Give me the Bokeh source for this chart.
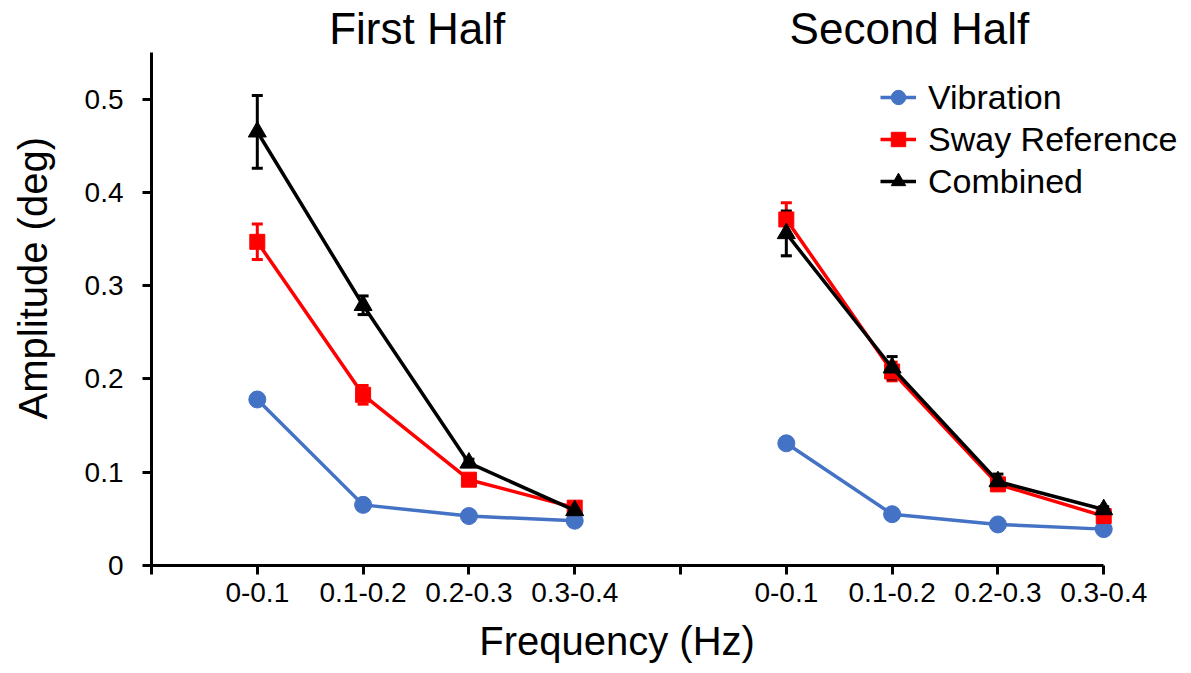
from bokeh.plotting import figure
from bokeh.models import (ColumnDataSource, Whisker, TeeHead, Legend, LegendItem,
                          FixedTicker, NumeralTickFormatter, Range1d, LinearAxis)
from bokeh.embed import file_html
from bokeh.resources import INLINE

# ---------------- data ----------------
categories = ["0-0.1", "0.1-0.2", "0.2-0.3", "0.3-0.4"]
halves = ["First Half", "Second Half"]
first_pos = [1, 2, 3, 4]
second_pos = [6, 7, 8, 9]

vib_first = [0.178, 0.065, 0.053, 0.048]
vib_first_err = [0.003, 0.003, 0.002, 0.002]
sway_first = [0.347, 0.183, 0.092, 0.062]
sway_first_err = [0.019, 0.010, 0.005, 0.003]
comb_first = [0.465, 0.279, 0.110, 0.059]
comb_first_err = [0.039, 0.010, 0.004, 0.003]

vib_second = [0.131, 0.055, 0.044, 0.039]
vib_second_err = [0.005, 0.003, 0.002, 0.002]
sway_second = [0.371, 0.208, 0.087, 0.053]
sway_second_err = [0.018, 0.010, 0.006, 0.004]
comb_second = [0.356, 0.212, 0.090, 0.060]
comb_second_err = [0.024, 0.012, 0.008, 0.003]

FONT = "Liberation Sans"
BLUE = "#4472C4"
RED = "#FF0000"
BLACK = "#000000"

p = figure(width=1183, height=665, output_backend="svg", toolbar_location=None,
           x_range=Range1d(0, 9.754), y_range=Range1d(0, 0.55),
           min_border_left=151, min_border_top=51, min_border_bottom=100,
           min_border_right=0)
p.outline_line_color = None
p.xgrid.visible = False
p.ygrid.visible = False
p.background_fill_color = "white"

# axes
xa = p.xaxis[0]
xa.ticker = FixedTicker(ticks=list(range(0, 10)))
overrides = {0: "", 5: ""}
for pos, c in zip(first_pos, categories):
    overrides[pos] = c
for pos, c in zip(second_pos, categories):
    overrides[pos] = c
xa.major_label_overrides = overrides
xa.bounds = (0, 9)
xa.axis_line_width = 3
xa.major_tick_line_width = 3
xa.major_tick_in = 0
xa.major_tick_out = 9
xa.minor_tick_line_color = None
xa.major_label_text_font = FONT
xa.major_label_text_font_size = "28px"
xa.major_label_text_color = "black"
xa.major_label_standoff = 8

ya = p.yaxis[0]
ya.ticker = FixedTicker(ticks=[0, 0.1, 0.2, 0.3, 0.4, 0.5])
ya.formatter = NumeralTickFormatter(format="0.[0]")
ya.axis_line_width = 3
ya.major_tick_line_width = 3
ya.major_tick_in = 0
ya.major_tick_out = 9
ya.minor_tick_line_color = None
ya.major_label_text_font = FONT
ya.major_label_text_font_size = "28px"
ya.major_label_text_color = "black"
ya.major_label_standoff = 19


def text_axis(tick, text, size, standoff, orientation="horizontal"):
    ticks = tick if isinstance(tick, list) else [tick]
    texts = text if isinstance(text, list) else [text]
    ax = LinearAxis(ticker=FixedTicker(ticks=ticks))
    ax.major_label_overrides = {t: s for t, s in zip(ticks, texts)}
    ax.axis_line_color = None
    ax.major_tick_line_color = None
    ax.minor_tick_line_color = None
    ax.major_tick_in = 0
    ax.major_tick_out = 0
    ax.major_label_text_font = FONT
    ax.major_label_text_font_size = size
    ax.major_label_text_color = "black"
    ax.major_label_standoff = standoff
    ax.major_label_orientation = orientation
    return ax


# panel titles (top), axis titles
p.add_layout(text_axis([2.511, 7.164], halves, "44px", 0), "above")
p.add_layout(text_axis(4.40, "Frequency (Hz)", "40px", 14), "below")
p.add_layout(text_axis(0.308, "Amplitude (deg)", "40px", 26, "vertical"), "left")

series = [
    ("Vibration", BLUE, "circle", 17, vib_first, vib_first_err, vib_second, vib_second_err),
    ("Sway Reference", RED, "square", 15, sway_first, sway_first_err, sway_second, sway_second_err),
    ("Combined", BLACK, "triangle", 18, comb_first, comb_first_err, comb_second, comb_second_err),
]

items = []
for name, color, marker, size, yf, ef, ys, es in series:
    rends = []
    for xs, yv, ev in ((first_pos, yf, ef), (second_pos, ys, es)):
        src = ColumnDataSource(dict(x=xs, y=yv,
                                    lo=[a - b for a, b in zip(yv, ev)],
                                    hi=[a + b for a, b in zip(yv, ev)]))
        w = Whisker(source=src, base="x", lower="lo", upper="hi",
                    line_color=color, line_width=3,
                    upper_head=TeeHead(size=11, line_color=color, line_width=3),
                    lower_head=TeeHead(size=11, line_color=color, line_width=3))
        p.add_layout(w)
        ln = p.line("x", "y", source=src, line_color=color, line_width=3.5)
        sc = p.scatter("x", "y", source=src, marker=marker, size=size,
                       fill_color=color, line_color=color, line_width=1)
        rends.append((ln, sc))
    items.append(LegendItem(label=name, renderers=[rends[0][0], rends[0][1]]))

legend = Legend(items=items, location=(729, 363), orientation="vertical")
legend.label_text_font = FONT
legend.label_text_font_size = "34px"
legend.label_text_color = "black"
legend.glyph_width = 36
legend.glyph_height = 42
legend.label_height = 42
legend.label_standoff = 12
legend.spacing = 0
legend.padding = 0
legend.margin = 0
legend.border_line_alpha = 0
legend.background_fill_alpha = 0
p.add_layout(legend)

open("out.html", "w").write(file_html(p, INLINE))
